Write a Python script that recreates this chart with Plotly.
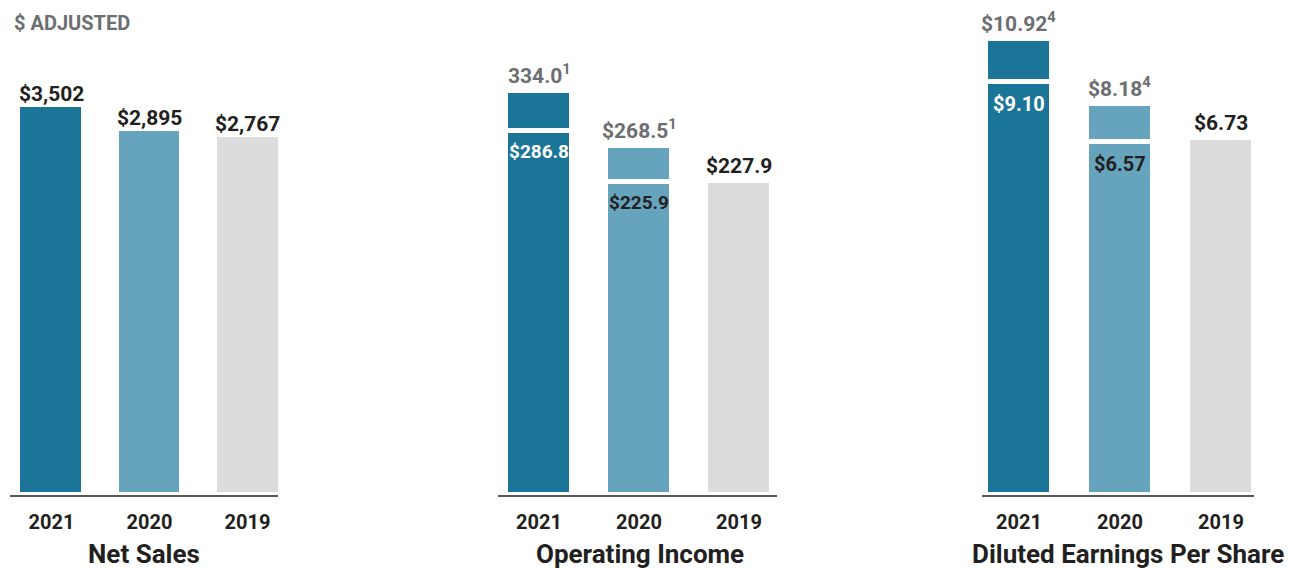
import plotly.graph_objects as go

# ---------------- data ----------------
years = ["2021", "2020", "2019"]
net_sales = [3502, 2895, 2767]
op_income_gaap = [286.8, 225.9, 227.9]
op_income_adj = [334.0, 268.5]
eps_gaap = [9.10, 6.57, 6.73]
eps_adj = [10.92, 8.18]

net_sales_labels = ["$3,502", "$2,895", "$2,767"]
op_gaap_labels = ["$286.8", "$225.9", "$227.9"]
op_adj_labels = ["334.0<sup>1</sup>", "$268.5<sup>1</sup>"]
eps_gaap_labels = ["$9.10", "$6.57", "$6.73"]
eps_adj_labels = ["$10.92<sup>4</sup>", "$8.18<sup>4</sup>"]
titles = ["Net Sales", "Operating Income", "Diluted Earnings Per Share"]
legend_label = "$ ADJUSTED"

# ---------------- style ----------------
W, H = 1293, 568
FONT = "Roboto"
BAR_COLORS = ["#1b7599", "#66a3bd", "#dcdcdc"]
DARK = "#231f20"
GRAY = "#6d6e71"
INSIDE_COLORS = ["#ffffff", DARK]
PLOT_BOTTOM_PX = 495

panels = [
    dict(xdom=(10, 278), xr=(-0.423, 2.311), yr=(-6300, 6150), width=0.673),
    dict(xdom=(498, 777), xr=(-0.41, 2.38), yr=(-145, 442), width=0.66),
    dict(xdom=(982, 1254), xr=(-0.366, 2.327), yr=(-8.23, 12.54), width=0.653),
]

fig = go.Figure()
annotations = []


def add_bars(i, gaap, adj):
    p = panels[i]
    xa = "x" if i == 0 else f"x{i+1}"
    ya = "y" if i == 0 else f"y{i+1}"
    floor = p["yr"][0]
    fig.add_trace(go.Bar(
        x=years, y=[v - floor for v in gaap], base=[floor] * len(gaap),
        marker=dict(color=BAR_COLORS, line=dict(color="white", width=5)),
        width=p["width"], xaxis=xa, yaxis=ya, hoverinfo="skip", showlegend=False))
    if adj:
        fig.add_trace(go.Bar(
            x=years[:len(adj)], y=[a - g for a, g in zip(adj, gaap)], base=gaap[:len(adj)],
            marker=dict(color=BAR_COLORS[:len(adj)], line=dict(color="white", width=5)),
            width=p["width"], xaxis=xa, yaxis=ya, hoverinfo="skip", showlegend=False))
    return xa, ya


def label(xa, ya, k, y, text, color, anchor, shift, size=21):
    annotations.append(dict(
        xref=xa, yref=ya, x=k, y=y, text=f"<b>{text}</b>", showarrow=False,
        yanchor=anchor, xanchor="center", yshift=shift,
        font=dict(family=FONT, size=size, color=color)))


# Panel 1: Net Sales
xa, ya = add_bars(0, net_sales, None)
for k, (v, t) in enumerate(zip(net_sales, net_sales_labels)):
    label(xa, ya, k, v, t, DARK, "bottom", -3)

# Panel 2: Operating income
xa, ya = add_bars(1, op_income_gaap, op_income_adj)
for k, (v, t) in enumerate(zip(op_income_gaap, op_gaap_labels)):
    if k < len(op_income_adj):
        label(xa, ya, k, v, t, INSIDE_COLORS[k], "top", -7, size=19)
    else:
        label(xa, ya, k, v, t, DARK, "bottom", 1)
for k, (v, t) in enumerate(zip(op_income_adj, op_adj_labels)):
    label(xa, ya, k, v, t, GRAY, "bottom", 1)

# Panel 3: EPS
xa, ya = add_bars(2, eps_gaap, eps_adj)
for k, (v, t) in enumerate(zip(eps_gaap, eps_gaap_labels)):
    if k < len(eps_adj):
        label(xa, ya, k, v, t, INSIDE_COLORS[k], "top", -8, size=20)
    else:
        label(xa, ya, k, v, t, DARK, "bottom", 1)
for k, (v, t) in enumerate(zip(eps_adj, eps_adj_labels)):
    label(xa, ya, k, v, t, GRAY, "bottom", 1)

# Titles
title_x = [144, 640, 1128]
for t, cx in zip(titles, title_x):
    annotations.append(dict(
        xref="paper", yref="paper", x=cx / W, y=1 - 554 / H, text=f"<b>{t}</b>",
        showarrow=False, xanchor="center", yanchor="middle",
        font=dict(family=FONT, size=26, color=DARK)))

annotations.append(dict(
    xref="paper", yref="paper", x=12 / W, y=1 - 23 / H, text=f"<b>{legend_label}</b>",
    showarrow=False, xanchor="left", yanchor="middle",
    font=dict(family=FONT, size=20, color=GRAY)))

layout = dict(
    width=W, height=H, margin=dict(l=0, r=0, t=0, b=0),
    paper_bgcolor="white", plot_bgcolor="white",
    barmode="overlay", bargap=0, showlegend=False,
    annotations=annotations, font=dict(family=FONT),
)
for i, p in enumerate(panels):
    sx = "" if i == 0 else str(i + 1)
    layout[f"xaxis{sx}"] = dict(
        domain=[p["xdom"][0] / W, p["xdom"][1] / W], range=list(p["xr"]),
        type="category", categoryorder="array", categoryarray=years,
        anchor=f"y{sx}", showline=True, linecolor="#58595b", linewidth=2,
        showgrid=False, zeroline=False, ticks="", fixedrange=True,
        tickfont=dict(family=FONT, size=20, color=DARK, weight="bold"),
        ticklabelstandoff=8)
    layout[f"yaxis{sx}"] = dict(
        domain=[1 - PLOT_BOTTOM_PX / H, 1], range=list(p["yr"]), anchor=f"x{sx}",
        showticklabels=False, showline=False, ticks="",
        showgrid=False, zeroline=False, fixedrange=True)

fig.update_layout(**layout)
fig.write_html("out.html")
